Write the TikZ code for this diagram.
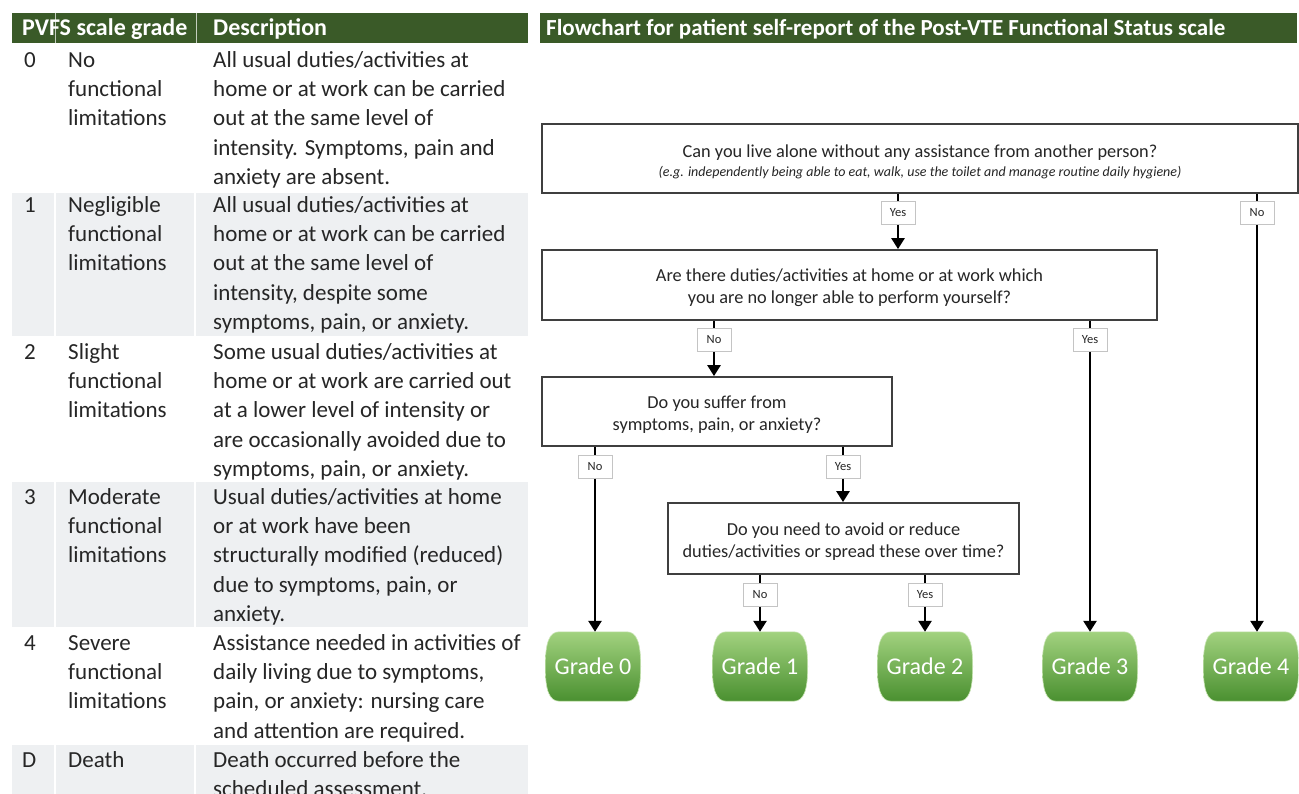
\documentclass[tikz,border=0pt]{standalone}
\usepackage{fontspec}
\setmainfont{Carlito}
\usetikzlibrary{arrows.meta,calc}
\pgfdeclarelayer{bg}
\pgfsetlayers{bg,main}
\definecolor{hdr}{HTML}{3A5A28}
\definecolor{shadec}{HTML}{EEF0F2}
\definecolor{txt}{HTML}{262626}
\definecolor{gtop}{HTML}{A2D27F}
\definecolor{gbot}{HTML}{4A9030}
\definecolor{labd}{HTML}{C4C4C4}
\definecolor{boxd}{HTML}{3F3F3F}
\newcommand\qpush{\rule{0pt}{19pt}}
\tikzset{
  cell/.style={anchor=north west, inner sep=0pt, align=left, text=txt,
    font=\fontsize{23}{29.3}\selectfont},
  hdrtxt/.style={anchor=base west, inner sep=0pt, text=white,
    font=\fontsize{24}{28}\selectfont\bfseries},
  qbox/.style={draw=boxd, line width=1.8pt, fill=white, inner sep=0pt,
    align=center, text=txt, font=\fontsize{18.3}{22}\selectfont},
  lab/.style={draw=labd, line width=0.9pt, fill=white, minimum width=34pt,
    minimum height=23pt, inner sep=0pt, text=txt,
    font=\fontsize{12.5}{14}\selectfont},
  conn/.style={line width=2.6pt, draw=black},
  arr/.style={conn, -{Triangle[width=13pt,length=11pt]}},
  grade/.style={minimum width=95pt, minimum height=69pt, inner sep=0pt,
    text=white, font=\fontsize{24}{28}\selectfont},
}
\newcommand\gradeshape[1]{%
  \begin{pgfonlayer}{bg}
  \shade[top color=gtop, bottom color=gbot, draw=gtop!60!white, line width=0.6pt]
    ($(#1.north west)+(14,0)$) -- ($(#1.north east)+(-14,0)$)
    .. controls ($(#1.north east)+(-4,0)$) and ($(#1.east)+(0,-24)$) .. (#1.east)
    .. controls ($(#1.east)+(0,24)$) and ($(#1.south east)+(-4,0)$) .. ($(#1.south east)+(-14,0)$)
    -- ($(#1.south west)+(14,0)$)
    .. controls ($(#1.south west)+(4,0)$) and ($(#1.west)+(0,24)$) .. (#1.west)
    .. controls ($(#1.west)+(0,-24)$) and ($(#1.north west)+(4,0)$) .. ($(#1.north west)+(14,0)$)
    -- cycle;
  \end{pgfonlayer}}
\begin{document}
\begin{tikzpicture}[x=1pt,y=-1pt]
\useasboundingbox (0,0) rectangle (1299,794);
\begin{pgfonlayer}{bg}
\fill[white] (0,0) rectangle (1299,794);
\end{pgfonlayer}

% ---------------- left table ----------------
\fill[hdr] (12,13) rectangle (528,43);
\draw[white!70!hdr, line width=0.8pt] (55,13) -- (55,43) (196,13) -- (196,43);
\node[hdrtxt] (h1) at (22,36) {PVFS scale grade};
\node[hdrtxt] (h2) at (213,36) {Description};

% shaded rows
\foreach \ya/\yb in {193/336, 482/627, 745/794}{
  \fill[shadec] (12,\ya) rectangle (54,\yb);
  \fill[shadec] (56,\ya) rectangle (194,\yb);
  \fill[shadec] (196,\ya) rectangle (528,\yb);
}

\node[cell] (r0a) at (24,46.5) {\strut 0};
\node[cell] (r0b) at (68,46.5) {\strut No\\functional\\limitations};
\node[cell] (r0c) at (213,46.5) {\strut All usual duties/activities at\\home or at work can be carried\\out at the same level of\\intensity. Symptoms, pain and\\anxiety are absent.};

\node[cell] (r1a) at (24,191.5) {\strut 1};
\node[cell] (r1b) at (68,191.5) {\strut Negligible\\functional\\limitations};
\node[cell] (r1c) at (213,191.5) {\strut All usual duties/activities at\\home or at work can be carried\\out at the same level of\\intensity, despite some\\symptoms, pain, or anxiety.};

\node[cell] (r2a) at (24,338.5) {\strut 2};
\node[cell] (r2b) at (68,338.5) {\strut Slight\\functional\\limitations};
\node[cell] (r2c) at (213,338.5) {\strut Some usual duties/activities at\\home or at work are carried out\\at a lower level of intensity or\\are occasionally avoided due to\\symptoms, pain, or anxiety.};

\node[cell] (r3a) at (24,483.5) {\strut 3};
\node[cell] (r3b) at (68,483.5) {\strut Moderate\\functional\\limitations};
\node[cell] (r3c) at (213,483.5) {\strut Usual duties/activities at home\\or at work have been\\structurally modified (reduced)\\due to symptoms, pain, or\\anxiety.};

\node[cell] (r4a) at (24,629.5) {\strut 4};
\node[cell] (r4b) at (68,629.5) {\strut Severe\\functional\\limitations};
\node[cell] (r4c) at (213,629.5) {\strut Assistance needed in activities of\\daily living due to symptoms,\\pain, or anxiety: nursing care\\and attention are required.};

\node[cell] (rDa) at (22,746.5) {\strut D};
\node[cell] (rDb) at (68,746.5) {\strut Death};
\node[cell] (rDc) at (213,746.5) {\strut Death occurred before the\\scheduled assessment.};

% ---------------- flowchart ----------------
\fill[hdr] (540,13) rectangle (1297,43);
\node[hdrtxt, font=\fontsize{23}{26}\selectfont\bfseries] (title) at (546,35.5) {Flowchart for patient self-report of the Post-VTE Functional Status scale};

\node[qbox, minimum width=756pt, minimum height=69pt] (q1) at (920,158.5)
  {\qpush Can you live alone without any assistance from another person?\\[-3pt]
   {\fontsize{14}{16}\selectfont\itshape (e.g. independently being able to eat, walk, use the toilet and manage routine daily hygiene)}};
\node[qbox, minimum width=615pt, minimum height=70pt] (q2) at (849.5,285)
  {\qpush Are there duties/activities at home or at work which\\you are no longer able to perform yourself?};
\node[qbox, minimum width=350pt, minimum height=69pt] (q3) at (717,411.5)
  {\qpush Do you suffer from\\symptoms, pain, or anxiety?};
\node[qbox, minimum width=351pt, minimum height=71pt] (q4) at (843.5,538.5)
  {\qpush Do you need to avoid or reduce\\duties/activities or spread these over time?};

\node[grade] (g0) at (593,666.5) {Grade 0};
\node[grade] (g1) at (760,666.5) {Grade 1};
\node[grade] (g2) at (925,666.5) {Grade 2};
\node[grade] (g3) at (1090,666.5) {Grade 3};
\node[grade] (g4) at (1251,666.5) {Grade 4};
\foreach \g in {g0,g1,g2,g3,g4}{\gradeshape{\g}}

\node[lab] (l1y) at (898,213) {Yes};
\node[lab] (l1n) at (1257,213) {No};
\node[lab] (l2n) at (714,340) {No};
\node[lab] (l2y) at (1090,340) {Yes};
\node[lab] (l3n) at (595,467) {No};
\node[lab] (l3y) at (843,467) {Yes};
\node[lab] (l4n) at (760,595) {No};
\node[lab] (l4y) at (925,595) {Yes};

\draw[conn] (q1.south -| l1y) -- (l1y);
\draw[arr] (l1y) -- (q2.north -| l1y);
\draw[conn] (q1.south -| l1n) -- (l1n);
\draw[arr] (l1n) -- (g4.north -| l1n);

\draw[conn] (q2.south -| l2n) -- (l2n);
\draw[arr] (l2n) -- (q3.north -| l2n);
\draw[conn] (q2.south -| l2y) -- (l2y);
\draw[arr] (l2y) -- (g3.north);

\draw[conn] (q3.south -| l3n) -- (l3n);
\draw[arr] (l3n) -- (g0.north -| l3n);
\draw[conn] (q3.south -| l3y) -- (l3y);
\draw[arr] (l3y) -- (q4.north -| l3y);

\draw[conn] (q4.south -| l4n) -- (l4n);
\draw[arr] (l4n) -- (g1.north);
\draw[conn] (q4.south -| l4y) -- (l4y);
\draw[arr] (l4y) -- (g2.north);
\end{tikzpicture}
\end{document}
